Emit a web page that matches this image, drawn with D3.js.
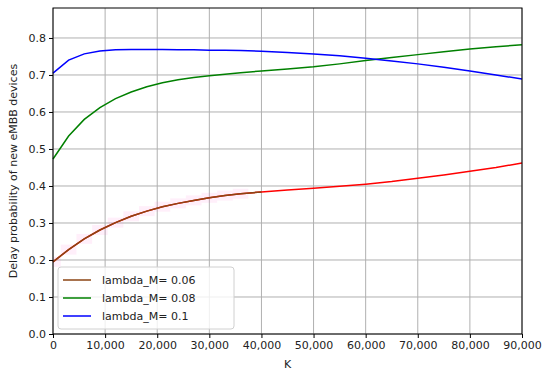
<!DOCTYPE html>
<html>
<head>
<meta charset="utf-8">
<script src="https://d3js.org/d3.v7.min.js"></script>
<style>
  body { margin: 0; background: #fff; }
  text { font-family: "DejaVu Sans", sans-serif; fill: #222; }
</style>
</head>
<body>
<div id="chart"></div>
<script>
// values
var kValues = [0, 3000, 6000, 9000, 12000, 15000, 18000, 21000, 24000, 27000, 30000, 33000, 36000, 40000, 45000, 50000, 55000, 60000, 65000, 70000, 75000, 80000, 85000, 90000];
var delay006 = [0.195, 0.228, 0.257, 0.281, 0.301, 0.318, 0.332, 0.344, 0.353, 0.361, 0.368, 0.374, 0.379, 0.384, 0.389, 0.394, 0.399, 0.405, 0.412, 0.421, 0.430, 0.440, 0.450, 0.462];
var delay008 = [0.473, 0.535, 0.580, 0.612, 0.636, 0.654, 0.668, 0.679, 0.687, 0.693, 0.698, 0.702, 0.706, 0.711, 0.716, 0.722, 0.730, 0.739, 0.747, 0.755, 0.763, 0.770, 0.776, 0.782];
var delay01 = [0.705, 0.740, 0.757, 0.765, 0.768, 0.769, 0.769, 0.769, 0.768, 0.768, 0.767, 0.767, 0.766, 0.764, 0.761, 0.757, 0.752, 0.745, 0.738, 0.730, 0.721, 0.711, 0.700, 0.689];
var seriesNames = ["lambda_M= 0.06", "lambda_M= 0.08", "lambda_M= 0.1"];
var seriesColors = ["#8b4513", "#008000", "#0000ff"];
var xTicks = [0, 10000, 20000, 30000, 40000, 50000, 60000, 70000, 80000, 90000];
var yTicks = [0, 0.1, 0.2, 0.3, 0.4, 0.5, 0.6, 0.7, 0.8];

var W = 550, H = 381;
var margin = {top: 8, right: 28, bottom: 47, left: 53};
var width = W - margin.left - margin.right,
    height = H - margin.top - margin.bottom;

var svg = d3.select("#chart").append("svg")
    .attr("width", W)
    .attr("height", H);

var g = svg.append("g")
    .attr("transform", "translate(" + margin.left + "," + margin.top + ")");

var x = d3.scaleLinear().domain([0, 90000]).range([0, width]);
var y = d3.scaleLinear().domain([0, 0.881]).range([height, 0]);

// grid
g.selectAll(".xgrid").data(xTicks).enter().append("line")
    .attr("x1", d => x(d)).attr("x2", d => x(d))
    .attr("y1", 0).attr("y2", height)
    .attr("stroke", "#b0b0b0").attr("stroke-width", 1);
g.selectAll(".ygrid").data(yTicks).enter().append("line")
    .attr("x1", 0).attr("x2", width)
    .attr("y1", d => y(d)).attr("y2", d => y(d))
    .attr("stroke", "#b0b0b0").attr("stroke-width", 1);

// faint pink band behind the first part of the lowest curve
var bandPts = kValues.filter(k => k < 40000);
var bw = x(3000) - x(0);
g.selectAll(".band").data(bandPts).enter().append("rect")
    .attr("x", d => Math.max(0, x(d) - bw / 2))
    .attr("width", d => x(d) - bw / 2 < 0 ? bw / 2 : bw)
    .attr("y", (d, i) => y(delay006[i]) - 5)
    .attr("height", 10)
    .attr("fill", "#ff66cc")
    .attr("opacity", 0.1);

var line = d3.line()
    .x((d, i) => x(kValues[i]))
    .y(d => y(d));

g.append("path").attr("d", line(delay006))
    .attr("fill", "none").attr("stroke", "#ff0000").attr("stroke-width", 1.5);
var n40 = kValues.indexOf(40000);
g.append("path").attr("d", line(delay006.slice(0, n40 + 1)))
    .attr("fill", "none").attr("stroke", seriesColors[0]).attr("stroke-width", 1.5);
g.append("path").attr("d", line(delay008))
    .attr("fill", "none").attr("stroke", seriesColors[1]).attr("stroke-width", 1.5);
g.append("path").attr("d", line(delay01))
    .attr("fill", "none").attr("stroke", seriesColors[2]).attr("stroke-width", 1.5);

// axes
var xAxis = d3.axisBottom(x).tickValues(xTicks).tickSize(4).tickPadding(3)
    .tickFormat(d3.format(","));
var yAxis = d3.axisLeft(y).tickValues(yTicks).tickSize(4).tickPadding(3)
    .tickFormat(d3.format(".1f"));

var gx = g.append("g").attr("transform", "translate(0," + height + ")").call(xAxis);
var gy = g.append("g").call(yAxis);
[gx, gy].forEach(function(a) {
    a.select(".domain").remove();
    a.selectAll("text").style("font-size", "11px").style("font-family", "DejaVu Sans").attr("fill", "#222");
    a.selectAll("line").attr("stroke", "#000");
});

g.append("rect")
    .attr("x", 0).attr("y", 0).attr("width", width).attr("height", height)
    .attr("fill", "none").attr("stroke", "#000").attr("stroke-width", 1);

// labels
svg.append("text")
    .attr("x", margin.left + width / 2).attr("y", 368)
    .attr("text-anchor", "middle").style("font-size", "11px")
    .text("K");
svg.append("text")
    .attr("transform", "translate(17," + (margin.top + height / 2) + ") rotate(-90)")
    .attr("text-anchor", "middle").style("font-size", "11px")
    .text("Delay probability of new eMBB devices");

// legend
var lg = g.append("g").attr("transform", "translate(5," + (height - 67) + ")");
lg.append("rect")
    .attr("width", 176).attr("height", 62).attr("rx", 3)
    .attr("fill", "#fff").attr("fill-opacity", 0.8)
    .attr("stroke", "#d0d0d0");
seriesNames.forEach(function(name, i) {
    var yy = 13 + i * 18;
    lg.append("line").attr("x1", 5).attr("x2", 33).attr("y1", yy).attr("y2", yy)
        .attr("stroke", seriesColors[i]).attr("stroke-width", 1.5);
    lg.append("text").attr("x", 44).attr("y", yy + 4)
        .style("font-size", "11px").text(name);
});
</script>
</body>
</html>
